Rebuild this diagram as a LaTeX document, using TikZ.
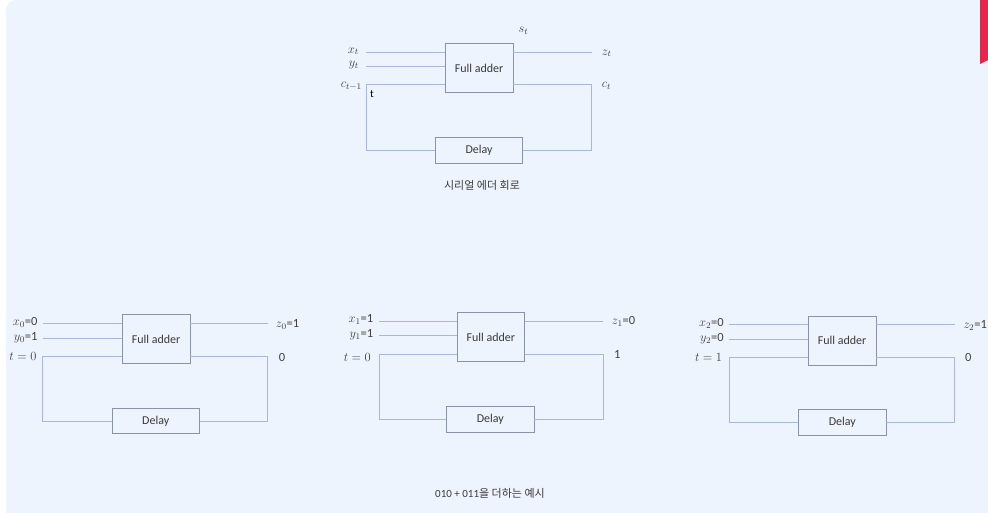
\RequirePackage{fix-cm}
\documentclass[tikz,border=0pt]{standalone}
\usepackage{fontspec}
\setmainfont{Carlito}
\newfontfamily\kr{Noto Sans CJK KR}
\usepackage{tikz}
\usetikzlibrary{calc}

\definecolor{slide}{HTML}{EEF4FD}
\definecolor{wirecol}{HTML}{A8B8D6}
\definecolor{boxcol}{HTML}{8A93A8}
\definecolor{txtcol}{HTML}{3A3A3A}
\definecolor{labcol}{HTML}{404040}
\definecolor{tabred}{HTML}{E8264C}

\begin{document}
\begin{tikzpicture}[x=1pt,y=-1pt]
		% Define styles
		\tikzstyle{adder}=[draw=boxcol,line width=0.8pt,minimum width=67.5pt,minimum height=49pt,inner sep=0pt,text=txtcol,font=\fontsize{12}{14}\selectfont]
		\tikzstyle{delaybox}=[adder,minimum width=87.3pt,minimum height=25.7pt]
		\tikzstyle{wire}=[draw=wirecol,line width=0.9pt]
		\tikzstyle{lab}=[inner sep=0pt,text=labcol,font=\fontsize{12.5}{15}\selectfont]
		\tikzstyle{caption}=[inner sep=0pt,text=txtcol,font=\fontsize{11}{13}\selectfont]
		
		% Slide background
		\useasboundingbox (0,0) rectangle (988,513);
		\fill[white] (0,0) rectangle (988,513);
		\fill[slide,rounded corners=10pt] (6,0) rectangle (1010,530);
		\fill[tabred] (980,0) -- (990,0) -- (990,59) -- (980,64) -- cycle;
		
		% Serial adder
		\begin{scope}[shift={(445,43.3)}]
			\node[adder,anchor=north west] (fa) at (0,0) {Full adder};
			\node[delaybox,anchor=north west] (dl) at (-10,93.6) {Delay};
			\coordinate (xin) at (-79,9);
			\coordinate (yin) at (-79,23);
			\coordinate (cin) at (-79,41.4);
			\coordinate (zout) at (146.7,9);
			\coordinate (cout) at (146.7,41.4);
			\draw[wire] (xin) -- (xin -| fa.west);
			\draw[wire] (yin) -- (yin -| fa.west);
			\draw[wire] (cin -| fa.west) -- (cin) |- (dl.west);
			\draw[wire] (zout -| fa.east) -- (zout);
			\draw[wire] (cout -| fa.east) -- (cout) |- (dl.east);
			\node[lab,anchor=east] (lx) at ($(xin)+(-7,-1)$) {$x_t$};
			\node[lab,anchor=east] (ly) at ($(yin)+(-7,-1)$) {$y_t$};
			\node[lab,anchor=east] (lc) at ($(cin)+(-4,2)$) {$c_{t-1}$};
			\node[inner sep=0pt,anchor=north west,text=black,font=\fontsize{11}{13}\selectfont] (lt) at ($(cin)+(4,6)$) {t};
			\node[lab,anchor=south west] (ls) at ($(fa.north east)+(5,-9)$) {$s_t$};
			\node[lab,anchor=west] (lz) at ($(zout)+(10,1)$) {$z_t$};
			\node[lab,anchor=west] (lco) at ($(cout)+(10,1)$) {$c_t$};
		\end{scope}
		\node[caption] (cap1) at (482,185) {\kr 시리얼 에더 회로};
		
		% Step 0
		\begin{scope}[shift={(122,314)}]
			\node[adder,anchor=north west] (fa0) at (0,0) {Full adder};
			\node[delaybox,anchor=north west] (dl0) at (-10.3,93.7) {Delay};
			\coordinate (xin0) at (-79.3,9.3);
			\coordinate (yin0) at (-79.3,24);
			\coordinate (cin0) at (-79.3,42);
			\coordinate (zout0) at (145.7,9.3);
			\coordinate (cout0) at (145.7,42);
			\draw[wire] (xin0) -- (xin0 -| fa0.west);
			\draw[wire] (yin0) -- (yin0 -| fa0.west);
			\draw[wire] (cin0 -| fa0.west) -- (cin0) |- (dl0.west);
			\draw[wire] (zout0 -| fa0.east) -- (zout0);
			\draw[wire] (cout0 -| fa0.east) -- (cout0) |- (dl0.east);
			\node[lab,anchor=east] (lx0) at ($(xin0)+(-5,-1)$) {$x_0$=0};
			\node[lab,anchor=east] (ly0) at ($(yin0)+(-5,0)$) {$y_0$=1};
			\node[lab,anchor=east] (lt0) at ($(cin0)+(-6,0)$) {$t=0$};
			\node[lab,anchor=west] (lz0) at ($(zout0)+(8,1)$) {$z_0$=1};
			\node[lab,anchor=west] (lc0) at ($(cout0)+(11,1)$) {0};
		\end{scope}
		
		% Step 1
		\begin{scope}[shift={(456.7,312.3)}]
			\node[adder,anchor=north west] (fa1) at (0,0) {Full adder};
			\node[delaybox,anchor=north west] (dl1) at (-10.4,93.7) {Delay};
			\coordinate (xin1) at (-77.7,9.4);
			\coordinate (yin1) at (-77.7,22.7);
			\coordinate (cin1) at (-77.7,41.7);
			\coordinate (zout1) at (146.6,9.4);
			\coordinate (cout1) at (146.6,41.7);
			\draw[wire] (xin1) -- (xin1 -| fa1.west);
			\draw[wire] (yin1) -- (yin1 -| fa1.west);
			\draw[wire] (cin1 -| fa1.west) -- (cin1) |- (dl1.west);
			\draw[wire] (zout1 -| fa1.east) -- (zout1);
			\draw[wire] (cout1 -| fa1.east) -- (cout1) |- (dl1.east);
			\node[lab,anchor=east] (lx1) at ($(xin1)+(-5.5,-2)$) {$x_1$=1};
			\node[lab,anchor=east] (ly1) at ($(yin1)+(-5.5,0)$) {$y_1$=1};
			\node[lab,anchor=east] (lt1) at ($(cin1)+(-8,3)$) {$t=0$};
			\node[lab,anchor=west] (lz1) at ($(zout1)+(8.4,0)$) {$z_1$=0};
			\node[lab,anchor=west] (lc1) at ($(cout1)+(10.7,0)$) {1};
		\end{scope}
		\node[caption] (cap2) at (490,493) {010 + 011{\kr 을 더하는 예시}};
		
		% Step 2
		\begin{scope}[shift={(808,315.7)}]
			\node[adder,anchor=north west] (fa2) at (0,0) {Full adder};
			\node[delaybox,anchor=north west] (dl2) at (-9.7,93.6) {Delay};
			\coordinate (xin2) at (-78.7,9);
			\coordinate (yin2) at (-78.7,23.3);
			\coordinate (cin2) at (-78.7,42);
			\coordinate (zout2) at (146.7,9);
			\coordinate (cout2) at (146.7,42);
			\draw[wire] (xin2) -- (xin2 -| fa2.west);
			\draw[wire] (yin2) -- (yin2 -| fa2.west);
			\draw[wire] (cin2 -| fa2.west) -- (cin2) |- (dl2.west);
			\draw[wire] (zout2 -| fa2.east) -- (zout2);
			\draw[wire] (cout2 -| fa2.east) -- (cout2) |- (dl2.east);
			\node[lab,anchor=east] (lx2) at ($(xin2)+(-5.3,-1)$) {$x_2$=0};
			\node[lab,anchor=east] (ly2) at ($(yin2)+(-5.3,0)$) {$y_2$=0};
			\node[lab,anchor=east] (lt2) at ($(cin2)+(-7,0)$) {$t=1$};
			\node[lab,anchor=west] (lz2) at ($(zout2)+(8.6,1)$) {$z_2$=1};
			\node[lab,anchor=west] (lc2) at ($(cout2)+(10.3,0)$) {0};
		\end{scope}
		
	\end{tikzpicture}
\end{document}
